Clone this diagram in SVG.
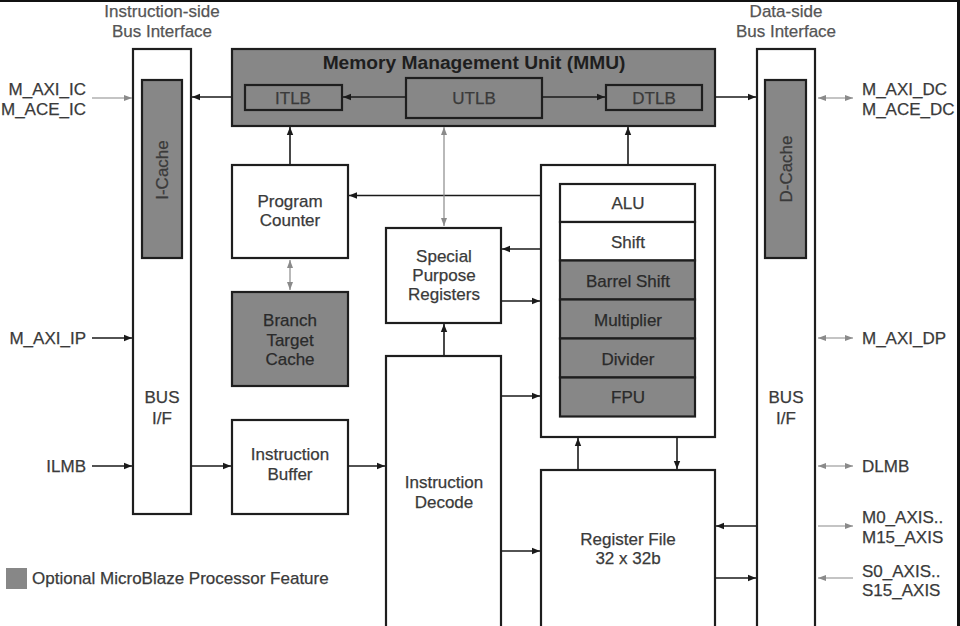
<svg xmlns="http://www.w3.org/2000/svg" width="960" height="626" viewBox="0 0 960 626">
<defs>
<marker id="ab" viewBox="0 0 8 8" refX="8" refY="4" markerWidth="8" markerHeight="8" markerUnits="userSpaceOnUse" orient="auto-start-reverse"><path d="M0,0.8 L8,4 L0,7.2 z" fill="#1a1a1a"/></marker>
<marker id="ag" viewBox="0 0 8 8" refX="8" refY="4" markerWidth="8" markerHeight="8" markerUnits="userSpaceOnUse" orient="auto-start-reverse"><path d="M0,1 L8,4 L0,7 z" fill="#8a8a8a"/></marker>
</defs>
<style>
text{font-family:"Liberation Sans",Arial,Helvetica,sans-serif;font-size:17px;fill:#3a3a3a;stroke:#3a3a3a;stroke-width:0.25;}
.lbl{fill:#555;stroke:#555;}
.c{text-anchor:middle;}
.e{text-anchor:end;}
.box{fill:#fff;stroke:#1e1e1e;stroke-width:2.2;}
.opt{fill:#878787;stroke:#1e1e1e;stroke-width:2.2;}
.dk{fill:#2a2a2a;stroke:#2a2a2a;}
.title{font-weight:bold;font-size:19.2px;fill:#1e1e1e;stroke:none;}
.bl{stroke:#1a1a1a;stroke-width:1.6;fill:none;marker-end:url(#ab);}
.gl{stroke:#8a8a8a;stroke-width:1.2;fill:none;marker-end:url(#ag);}
.gl2{stroke:#8a8a8a;stroke-width:1.2;fill:none;marker-end:url(#ag);marker-start:url(#ag);}
</style>
<rect x="0" y="0" width="960" height="626" fill="#fff"/>
<rect x="0" y="0" width="960" height="2" fill="#111"/>
<rect x="957" y="0" width="3" height="626" fill="#111"/>

<g id="ibus-label">
<text class="c lbl" x="162" y="17">Instruction-side</text>
<text class="c lbl" x="162" y="36.5">Bus Interface</text>
</g>
<g id="dbus-label">
<text class="c lbl" x="786" y="17">Data-side</text>
<text class="c lbl" x="786" y="36.5">Bus Interface</text>
</g>

<g id="ibus">
<rect class="box" x="133" y="49" width="58" height="465"/>
<text class="c" x="162" y="403">BUS</text>
<text class="c" x="162" y="424">I/F</text>
</g>
<g id="icache">
<rect class="opt" x="142" y="80" width="40" height="178"/>
<text class="c" transform="translate(168,170) rotate(-90)">I-Cache</text>
</g>

<g id="dbus">
<rect class="box" x="757" y="49" width="58" height="600"/>
<text class="c" x="786" y="403">BUS</text>
<text class="c" x="786" y="424">I/F</text>
</g>
<g id="dcache">
<rect class="opt" x="765" y="80" width="41" height="178"/>
<text class="c" transform="translate(792,169) rotate(-90)">D-Cache</text>
</g>

<g id="mmu">
<rect class="opt" x="232" y="49" width="483" height="77"/>
<text class="c title" x="474" y="69">Memory Management Unit (MMU)</text>
</g>
<g id="itlb">
<rect class="opt" x="245" y="85" width="97" height="25"/>
<text class="c" x="293" y="103.5">ITLB</text>
</g>
<g id="utlb">
<rect class="opt" x="406" y="78" width="136" height="40"/>
<text class="c" x="474" y="103.5">UTLB</text>
</g>
<g id="dtlb">
<rect class="opt" x="606" y="85" width="96" height="25"/>
<text class="c" x="654" y="103.5">DTLB</text>
</g>

<g id="program-counter">
<rect class="box" x="232" y="165" width="116" height="93"/>
<text class="c" x="290" y="206.5">Program</text>
<text class="c" x="290" y="226">Counter</text>
</g>
<g id="branch-target-cache">
<rect class="opt" x="232" y="292" width="116" height="94"/>
<text class="c dk" x="290" y="326">Branch</text>
<text class="c dk" x="290" y="345.5">Target</text>
<text class="c dk" x="290" y="365">Cache</text>
</g>
<g id="instruction-buffer">
<rect class="box" x="232" y="420" width="116" height="94"/>
<text class="c" x="290" y="460">Instruction</text>
<text class="c" x="290" y="480">Buffer</text>
</g>
<g id="spr">
<rect class="box" x="386" y="228" width="115" height="95"/>
<text class="c" x="444" y="262">Special</text>
<text class="c" x="444" y="281">Purpose</text>
<text class="c" x="444" y="300">Registers</text>
</g>
<g id="instruction-decode">
<rect class="box" x="386" y="356" width="115" height="300"/>
<text class="c" x="444" y="488">Instruction</text>
<text class="c" x="444" y="507.5">Decode</text>
</g>
<g id="execution-unit">
<rect class="box" x="541" y="165" width="174" height="272"/>
</g>
<g id="alu"><rect class="box" x="560" y="184" width="135" height="38"/><text class="c" x="628" y="209">ALU</text></g>
<g id="shift"><rect class="box" x="560" y="222" width="135" height="38.5"/><text class="c" x="628" y="248">Shift</text></g>
<g id="barrel-shift"><rect class="opt" x="560" y="260.5" width="135" height="39"/><text class="c dk" x="628" y="286.5">Barrel Shift</text></g>
<g id="multiplier"><rect class="opt" x="560" y="299.5" width="135" height="39"/><text class="c dk" x="628" y="325.5">Multiplier</text></g>
<g id="divider"><rect class="opt" x="560" y="338.5" width="135" height="39"/><text class="c dk" x="628" y="364.5">Divider</text></g>
<g id="fpu"><rect class="opt" x="560" y="377.5" width="135" height="39"/><text class="c dk" x="628" y="402.5">FPU</text></g>
<g id="register-file">
<rect class="box" x="541" y="470" width="174" height="200"/>
<text class="c" x="628" y="545">Register File</text>
<text class="c" x="628" y="564">32 x 32b</text>
</g>

<g id="ports">
<text class="e" x="86" y="94.5">M_AXI_IC</text>
<text class="e" x="86" y="114.5">M_ACE_IC</text>
<text class="e" x="86" y="344">M_AXI_IP</text>
<text class="e" x="86" y="472">ILMB</text>
<text x="862" y="94.5">M_AXI_DC</text>
<text x="862" y="114.5">M_ACE_DC</text>
<text x="862" y="344">M_AXI_DP</text>
<text x="862" y="472">DLMB</text>
<text x="862" y="523">M0_AXIS..</text>
<text x="862" y="543">M15_AXIS</text>
<text x="862" y="577">S0_AXIS..</text>
<text x="862" y="595.5">S15_AXIS</text>
</g>

<g id="legend">
<rect x="6" y="568" width="21" height="21" fill="#878787"/>
<text x="32" y="584">Optional MicroBlaze Processor Feature</text>
</g>

<g id="connectors">
<path class="gl" d="M92,98 H132"/>
<path class="bl" d="M92,338 H132"/>
<path class="bl" d="M92,466 H132"/>
<path class="gl2" d="M818,98 H853"/>
<path class="gl2" d="M818,338 H853"/>
<path class="gl2" d="M818,466 H853"/>
<path class="gl" d="M818,526 H853"/>
<path class="gl" d="M853,578 H818"/>
<path class="bl" d="M231,97 H192"/>
<path class="bl" d="M406,97 H343"/>
<path class="bl" d="M542,97 H605"/>
<path class="bl" d="M715,97 H756"/>
<path class="bl" d="M290,164 V127"/>
<path class="gl2" d="M290,260 V290"/>
<path class="bl" d="M540,195.5 H349"/>
<path class="gl2" d="M444,127 V226"/>
<path class="bl" d="M628,164 V127"/>
<path class="bl" d="M540,249 H502"/>
<path class="bl" d="M501,301 H540"/>
<path class="bl" d="M444,355 V324"/>
<path class="bl" d="M501,396 H540"/>
<path class="bl" d="M191,466 H231"/>
<path class="bl" d="M348,466 H385"/>
<path class="bl" d="M578,469 V438"/>
<path class="bl" d="M677,437 V469"/>
<path class="bl" d="M501,551 H540"/>
<path class="bl" d="M756,526 H716"/>
<path class="bl" d="M715,578 H756"/>
</g>
</svg>
